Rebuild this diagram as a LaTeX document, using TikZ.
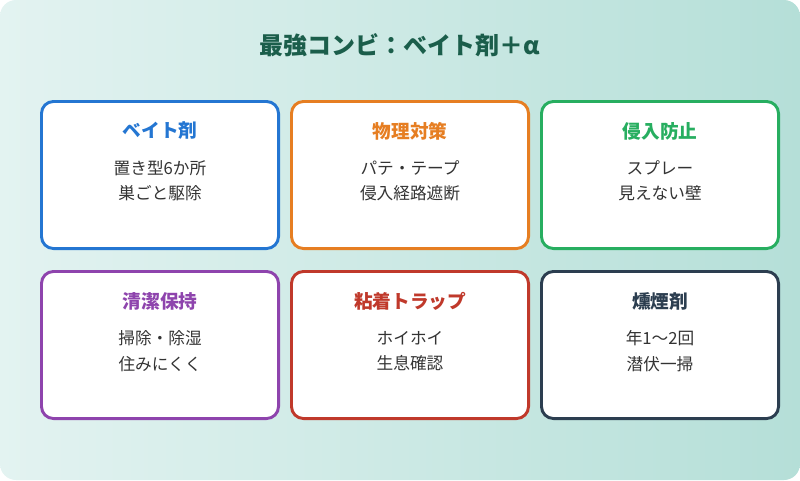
\documentclass[tikz,border=0pt]{standalone}
\usepackage{fontspec}
\newfontfamily\cjk{Noto Sans CJK JP}
\definecolor{cblue}{HTML}{2476D2}
\definecolor{corange}{HTML}{E67E22}
\definecolor{cgreen}{HTML}{27AE60}
\definecolor{cpurple}{HTML}{8E44AD}
\definecolor{cred}{HTML}{C0392B}
\definecolor{cdark}{HTML}{2C3E50}
\definecolor{ctitle}{HTML}{1B5E4B}
\definecolor{bgA}{HTML}{E3F3F1}
\definecolor{bgB}{HTML}{B5DFD8}
\tikzset{
 card/.style={draw=#1, line width=2.2pt, fill=white, rounded corners=9pt, minimum width=177.8pt, minimum height=110.3pt, outer sep=0pt, anchor=center},
 ctitle/.style={font=\cjk\bfseries\fontsize{14}{16}\selectfont, text=#1},
 cbody/.style={font=\cjk\fontsize{12.5}{19}\selectfont, text=black!80, align=center},
}
\begin{document}
\begin{tikzpicture}[x=0.75pt,y=-0.75pt]
\useasboundingbox (0,0) rectangle (800,480);
\shade[rounded corners=12pt, left color=bgA, right color=bgB] (0,0) rectangle (800,480);
\node[font=\cjk\bfseries\fontsize{18}{20}\selectfont, text=ctitle] (title) at (400,45) {最強コンビ：ベイト剤＋α};
\foreach \n/\x/\y/\c/\t/\a/\b in {
 a/40/100/cblue/ベイト剤/置き型6か所/巣ごと駆除,
 b/290/100/corange/物理対策/パテ・テープ/侵入経路遮断,
 c/540/100/cgreen/侵入防止/スプレー/見えない壁,
 d/40/270/cpurple/清潔保持/掃除・除湿/住みにくく,
 e/290/270/cred/粘着トラップ/ホイホイ/生息確認,
 f/540/270/cdark/燻煙剤/年1〜2回/潜伏一掃}{
 \node[card=\c] (\n) at (\x+120,\y+75) {};
 \node[ctitle=\c] (\n t) at (\x+120,\y+31) {\t};
 \node[cbody] (\n b) at (\x+120,\y+81) {\a\\\b};
}
\end{tikzpicture}
\end{document}
